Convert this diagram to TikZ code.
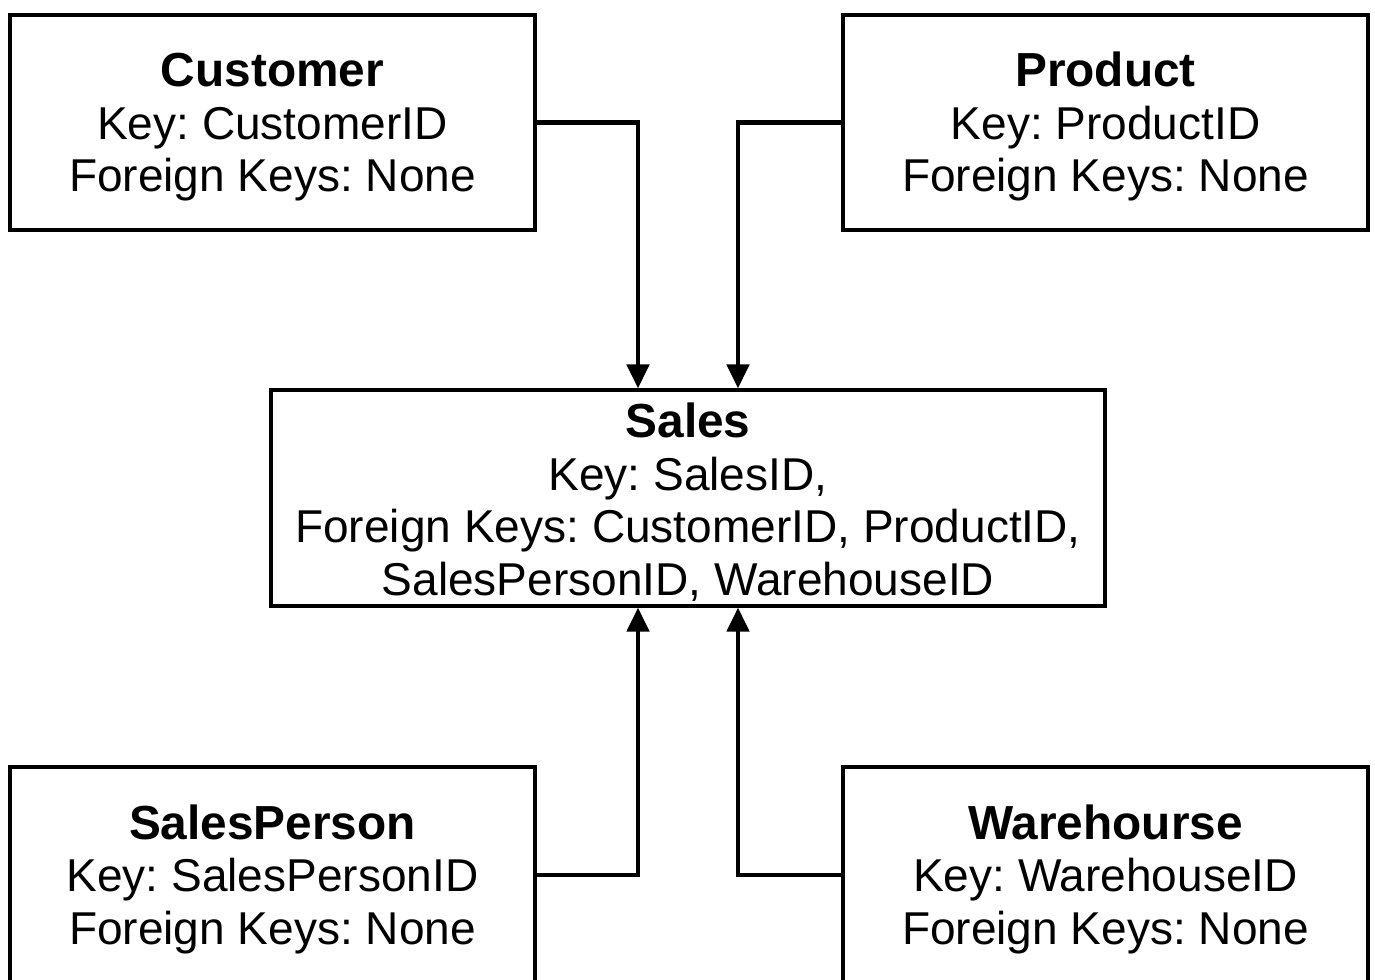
\documentclass[tikz,border=0pt]{standalone}
\usepackage{fontspec}
\setmainfont{Liberation Sans}
\usetikzlibrary{arrows.meta}
\frenchspacing
\newcommand{\boxtitle}[1]{\rule{0pt}{12.2pt}{\bfseries\fontsize{13.6pt}{14.95pt}\selectfont #1}}
\begin{document}
\begin{tikzpicture}[x=1cm,y=1cm,
  tbl/.style={draw=black, line width=0.9pt, fill=white, align=center,
    minimum width=5.25cm, minimum height=2.15cm, inner sep=0pt,
    font=\fontsize{13.1pt}{14.95pt}\selectfont\frenchspacing},
  salesbox/.style={tbl, minimum width=8.34cm, minimum height=2.16cm},
  lowbox/.style={tbl, minimum height=2.16cm},
  conn/.style={draw=black, line width=1.3pt, -{Triangle[width=0.22cm,length=0.24cm]}}]
\useasboundingbox (0,0) rectangle (13.75,-9.79);
\clip (0,0) rectangle (13.75,-9.79);
\node[tbl] (cust) at (2.725,-1.225) {\boxtitle{Customer}\\Key: CustomerID\\Foreign Keys: None};
\node[tbl] (prod) at (11.055,-1.225) {\boxtitle{Product}\\Key: ProductID\\Foreign Keys: None};
\node[salesbox] (sales) at (6.88,-4.98) {\boxtitle{Sales}\\Key: SalesID,\\Foreign Keys: CustomerID, ProductID,\\SalesPersonID, WarehouseID};
\node[lowbox] (sp) at (2.725,-8.75) {\boxtitle{SalesPerson}\\Key: SalesPersonID\\Foreign Keys: None};
\node[lowbox] (wh) at (11.055,-8.75) {\boxtitle{Warehourse}\\Key: WarehouseID\\Foreign Keys: None};
\draw[conn] (cust.east) -| ([xshift=-0.5cm]sales.north);
\draw[conn] (prod.west) -| ([xshift=0.5cm]sales.north);
\draw[conn] (sp.east) -| ([xshift=-0.5cm]sales.south);
\draw[conn] (wh.west) -| ([xshift=0.5cm]sales.south);
\end{tikzpicture}
\end{document}
